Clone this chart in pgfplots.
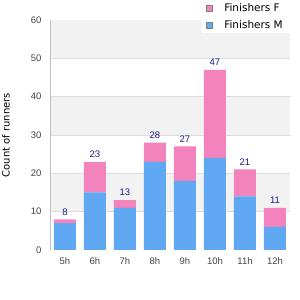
\documentclass[border=0pt]{standalone}
\usepackage{pgfplots}
\pgfplotsset{compat=1.18}
\usepackage{fontspec}
\setmainfont{DejaVu Sans}
\newfontfamily\arialish{Liberation Sans}
\definecolor{cF}{HTML}{F283BD}
\definecolor{cM}{HTML}{60A9F2}
\definecolor{band}{HTML}{F2F2F2}
\definecolor{gridc}{HTML}{DDDDDD}
\definecolor{txt}{HTML}{444444}
\definecolor{lab}{HTML}{1A1A8C}
\begin{document}
\begin{tikzpicture}[x=1pt,y=1pt]
\path[use as bounding box] (0,0) rectangle (300,300);
% background axis: bands and grid
\begin{axis}[
  at={(50pt,50pt)}, anchor=south west,
  scale only axis, width=240pt, height=230pt,
  xmin=-0.5, xmax=7.5, ymin=0, ymax=60,
  xtick=\empty, ytick=\empty,
  axis line style={draw=none},
]
\fill[band] (axis cs:-0.5,10) rectangle (axis cs:7.5,20);
\fill[band] (axis cs:-0.5,30) rectangle (axis cs:7.5,40);
\fill[band] (axis cs:-0.5,50) rectangle (axis cs:7.5,60);
\draw[gridc, line width=0.8pt] (axis cs:-0.5,10) -- (axis cs:7.5,10);
\draw[gridc, line width=0.8pt] (axis cs:-0.5,20) -- (axis cs:7.5,20);
\draw[gridc, line width=0.8pt] (axis cs:-0.5,30) -- (axis cs:7.5,30);
\draw[gridc, line width=0.8pt] (axis cs:-0.5,40) -- (axis cs:7.5,40);
\draw[gridc, line width=0.8pt] (axis cs:-0.5,50) -- (axis cs:7.5,50);
\end{axis}
\begin{axis}[
  at={(50pt,50pt)}, anchor=south west,
  scale only axis, width=240pt, height=230pt,
  ybar stacked, bar width=22pt,
  stacked ignores zero=false,
  xmin=-0.5, xmax=7.5, ymin=0, ymax=60,
  xtick=data, xticklabels={5h,6h,7h,8h,9h,10h,11h,12h},
  ytick={0,10,20,30,40,50,60},
  major tick length=0pt,
  axis line style={draw=none},
  tick label style={font=\arialish\fontsize{9.5}{11}\selectfont, text=txt},
  yticklabel style={xshift=-5pt},
  xticklabel style={yshift=-4pt},
  /pgf/number format/assume math mode=true,
  ylabel={Count of runners}, ylabel style={font=\fontsize{10}{12}\selectfont, text=black},
  every axis y label/.style={at={(-44pt,115pt)}, rotate=90, anchor=center},
  legend style={at={(240pt,250pt)}, anchor=north east, draw=none, fill=white,
    font=\fontsize{10.5}{12}\selectfont, row sep=4pt, inner xsep=4pt, inner ysep=1pt,
    nodes={inner xsep=3pt}},
  legend cell align=left,
  reverse legend,
]
\addplot[fill=cM, draw=none, legend image code/.code={\draw[gray, fill=cM] (0pt,-3pt) rectangle (6pt,3pt); \path (15pt,0pt);}] coordinates {(0,7) (1,15) (2,11) (3,23) (4,18) (5,24) (6,14) (7,6)};
\addlegendentry{Finishers M}
\addplot[fill=cF, draw=none, legend image code/.code={\draw[gray, fill=cF] (0pt,-3pt) rectangle (6pt,3pt); \path (15pt,0pt);}]
  coordinates {(0,1) (1,8) (2,2) (3,5) (4,9) (5,23) (6,7) (7,5)};
\addlegendentry{Finishers F}
\addplot[draw=none, fill=none, forget plot,
  nodes near coords, point meta=explicit symbolic,
  every node near coord/.append style={font=\arialish\fontsize{9.5}{11}\selectfont, text=lab, inner sep=4pt, anchor=south}]
  coordinates {(0,0) [8] (1,0) [23] (2,0) [13] (3,0) [28] (4,0) [27] (5,0) [47] (6,0) [21] (7,0) [11]};
\draw[gridc!70!gray, line width=0.8pt] (rel axis cs:0,1) -- (rel axis cs:0,0) -- (rel axis cs:1,0) -- (rel axis cs:1,1);
\end{axis}
\end{tikzpicture}
\end{document}
